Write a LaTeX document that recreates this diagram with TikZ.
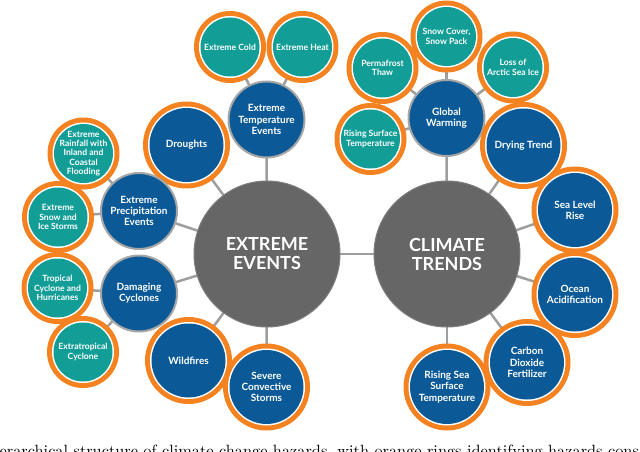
\documentclass[tikz,border=0pt]{standalone}
\usepackage{fontspec}
\setmainfont{Lato}
\newfontfamily\capfont{lmroman10-regular}[Extension=.otf]
\usetikzlibrary{backgrounds}
\definecolor{ringor}{HTML}{F58220}
\definecolor{tealc}{HTML}{129E96}
\definecolor{bluec}{HTML}{0B5A97}
\definecolor{bigg}{HTML}{666666}
\definecolor{hubb}{HTML}{A6A6A6}
\definecolor{linec}{HTML}{9E9E9E}
\tikzset{
  base/.style={circle, inner sep=0pt, text=white, align=center, font=\bfseries},
  ringteal/.style={base, minimum size=72pt, fill=ringor,
    font=\fontsize{8.6}{9.3}\selectfont\bfseries,
    path picture={\fill[white] (path picture bounding box.center) circle (31pt);
                  \fill[tealc] (path picture bounding box.center) circle (29.5pt);}},
  ringblue/.style={base, minimum size=87pt, fill=ringor,
    font=\fontsize{10}{11.2}\selectfont\bfseries,
    path picture={\fill[white] (path picture bounding box.center) circle (38.5pt);
                  \fill[bluec] (path picture bounding box.center) circle (37pt);}},
  hub/.style={base, minimum size=76pt, fill=bluec, draw=hubb, line width=2pt,
    font=\fontsize{10}{11.2}\selectfont\bfseries},
  big/.style={base, minimum size=146pt, fill=bigg, draw=bigg!85!white, line width=1pt,
    font=\fontsize{18}{19}\selectfont\bfseries},
  conn/.style={draw=linec, line width=2.5pt}
}
\begin{document}
\begin{tikzpicture}[x=1pt,y=-1pt]
\useasboundingbox (0,0) rectangle (640,452);
% main
\node[big] (ee) at (267,254) {EXTREME\\EVENTS};
\node[big] (ct) at (447,254) {CLIMATE\\TRENDS};
% extreme events side
\node[hub] (ete) at (266.5,119.5) {Extreme\\Temperature\\Events};
\node[ringteal] (ecold) at (230,47) {Extreme Cold};
\node[ringteal] (eheat) at (302.5,47) {Extreme Heat};
\node[ringblue] (drought) at (186.5,145) {Droughts};
\node[ringteal] (rain) at (83.5,153.5) {Extreme\\Rainfall with\\Inland and\\Coastal\\Flooding};
\node[hub] (epe) at (139,211) {Extreme\\Precipitation\\Events};
\node[ringteal] (snow) at (58,217) {Extreme\\Snow and\\Ice Storms};
\node[ringteal] (trop) at (57.5,288) {Tropical\\Cyclone and\\Hurricanes};
\node[hub] (dc) at (139,293.5) {Damaging\\Cyclones};
\node[ringteal] (extra) at (83,352) {Extratropical\\Cyclone};
\node[ringblue] (wild) at (188.5,360.5) {Wildfires};
\node[ringblue] (severe) at (266.5,387) {Severe\\Convective\\Storms};
% climate trends side
\node[hub] (gw) at (446.5,118) {Global\\Warming};
\node[ringteal] (snowcover) at (446.5,36.5) {Snow Cover,\\Snow Pack};
\node[ringteal] (perma) at (382.5,68) {Permafrost\\Thaw};
\node[ringteal] (arctic) at (513,67.5) {Loss of\\Arctic Sea Ice};
\node[ringteal] (rst) at (370.5,139) {Rising Surface\\Temperature};
\node[ringblue] (dry) at (523.5,145.5) {Drying Trend};
\node[ringblue] (slr) at (575,210) {Sea Level\\Rise};
\node[ringblue] (oa) at (575,294.5) {Ocean\\Acidification};
\node[ringblue] (cdf) at (527,362.5) {Carbon\\Dioxide\\Fertilizer};
\node[ringblue] (rsst) at (447,387) {Rising Sea\\Surface\\Temperature};
% connectors
\begin{scope}[on background layer]
\foreach \a/\b in {ee/ct, ee/ete, ee/drought, ee/epe, ee/dc, ee/wild, ee/severe,
  ete/ecold, ete/eheat, epe/rain, epe/snow, dc/trop, dc/extra,
  ct/gw, ct/dry, ct/slr, ct/oa, ct/cdf, ct/rsst,
  gw/snowcover, gw/perma, gw/arctic, gw/rst}
  \draw[conn] (\a.center) -- (\b.center);
\end{scope}
% caption (cut off at the bottom edge)
\begin{scope}
\clip (0,0) rectangle (640,452);
\node[anchor=base west, inner sep=0pt, font=\capfont\fontsize{16.3}{18}\selectfont] (cap) at (-0.5,456)
  {erarchical structure of climate change hazards, with orange rings identifying hazards cons};
\end{scope}
\end{tikzpicture}
\end{document}
